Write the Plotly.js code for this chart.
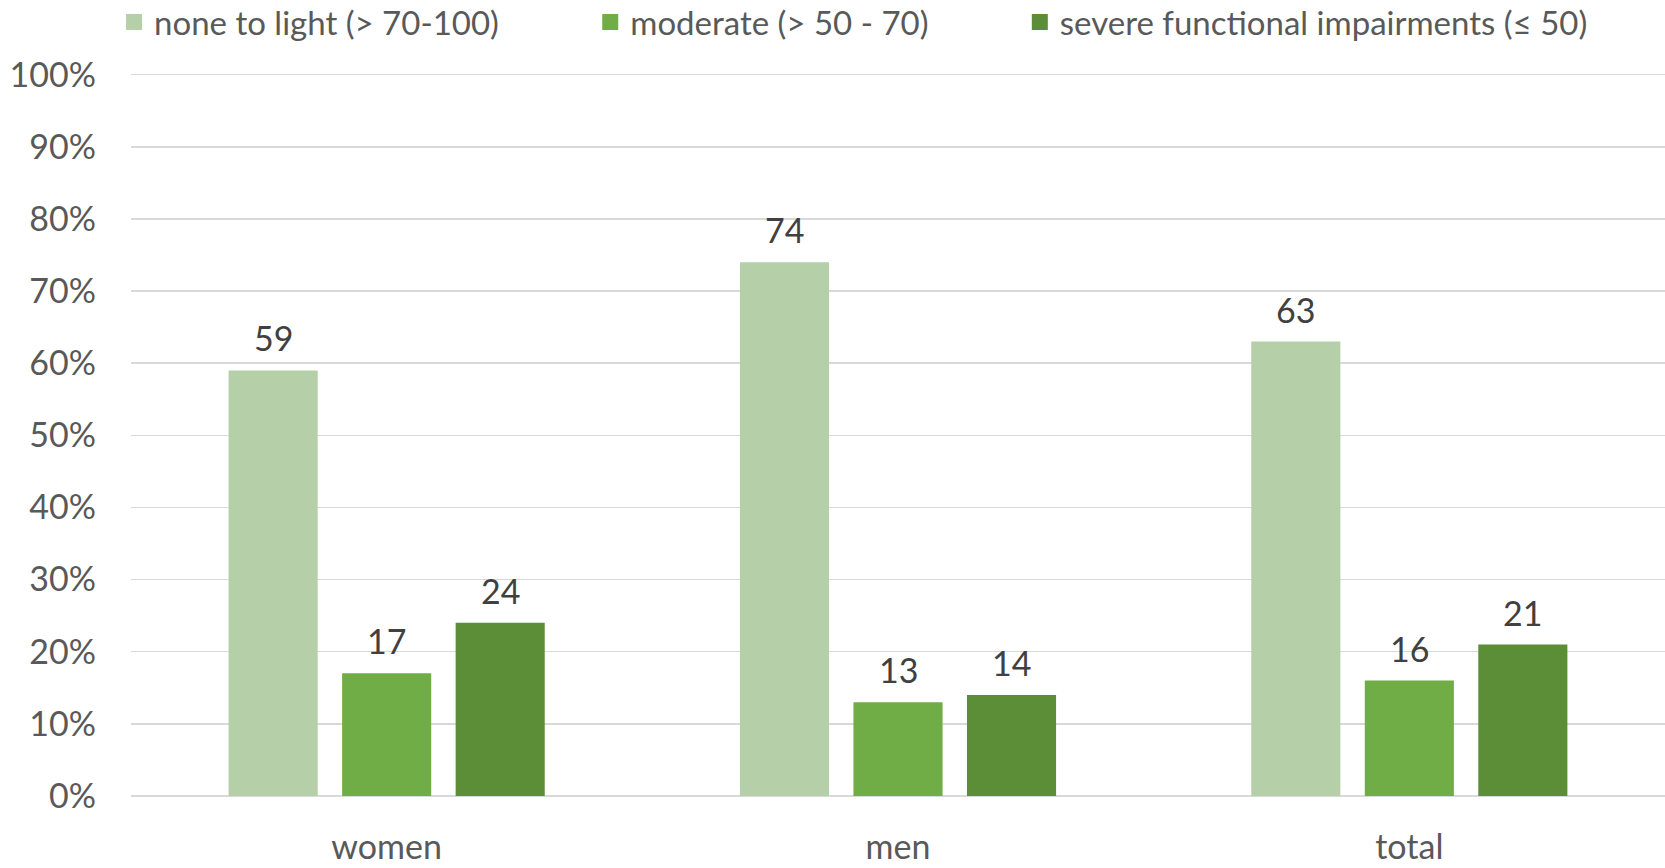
<!DOCTYPE html>
<html>
<head>
<meta charset="utf-8">
<script src="https://cdn.plot.ly/plotly-3.0.1.min.js"></script>
<style>
html,body{margin:0;padding:0;background:#fff;}
#chart{width:1665px;height:868px;}
</style>
</head>
<body>
<div id="chart"></div>
<script>
// ---- data ----
const categories = ["women", "men", "total"];
const seriesNames = ["none to light (> 70-100)", "moderate (> 50 - 70)", "severe functional impairments (≤ 50)"];
const noneToLight = [59, 74, 63];
const moderate = [17, 13, 16];
const severe = [24, 14, 21];
const yTickValues = [0, 10, 20, 30, 40, 50, 60, 70, 80, 90, 100];
const yTickLabels = ["0%", "10%", "20%", "30%", "40%", "50%", "60%", "70%", "80%", "90%", "100%"];

// ---- style ----
const colors = ["#B5CFA8", "#70AD47", "#5B8E37"];
const FONT = "Lato, 'Open Sans', sans-serif";
const FS = 34;
const W = 1665, H = 868;
const margin = {l: 131, r: 0, t: 70.7, b: 71.6, pad: 0};
const bargap = 0.334;
const legendX = [0.0685, 0.3545, 0.6125];

const allSeries = [noneToLight, moderate, severe];

const traces = [];
allSeries.forEach((vals, i) => {
  traces.push({
    type: "bar",
    name: seriesNames[i],
    x: categories,
    y: vals,
    marker: {color: colors[i], line: {width: 0}},
    showlegend: false,
    hoverinfo: "skip"
  });
});
// legend entries (square swatches)
allSeries.forEach((vals, i) => {
  traces.push({
    type: "scatter", mode: "markers",
    name: seriesNames[i],
    x: [null], y: [null],
    marker: {symbol: "square", size: 16, color: colors[i]},
    legend: i === 0 ? "legend" : "legend" + (i + 1),
    hoverinfo: "skip"
  });
});

// data labels as annotations offset to each bar of the group
const plotW = W - margin.l - margin.r;
const slot = plotW / categories.length * (1 - bargap) / allSeries.length;
const annotations = [];
allSeries.forEach((vals, i) => {
  vals.forEach((v, j) => {
    annotations.push({
      x: categories[j], y: v, xref: "x", yref: "y",
      xshift: (i - 1) * slot, yshift: 10,
      yanchor: "bottom", xanchor: "center",
      text: String(v), showarrow: false,
      font: {family: FONT, size: FS, color: "#404040"}
    });
  });
});

function legendCfg(x) {
  return {
    orientation: "h", xref: "container", yref: "container",
    x: x, xanchor: "left", y: 1 - 22 / H, yanchor: "middle",
    font: {family: FONT, size: 33, color: "#595959"},
    bgcolor: "rgba(0,0,0,0)", borderwidth: 0, itemclick: false, itemdoubleclick: false
  };
}

const layout = {
  width: W, height: H,
  margin: margin,
  paper_bgcolor: "#fff", plot_bgcolor: "#fff",
  font: {family: FONT, size: FS, color: "#595959"},
  barmode: "group",
  bargap: bargap,
  bargroupgap: 0.215,
  showlegend: true,
  legend: legendCfg(legendX[0]),
  legend2: legendCfg(legendX[1]),
  legend3: legendCfg(legendX[2]),
  xaxis: {
    type: "category",
    showgrid: false, zeroline: false, showline: false,
    ticks: "", ticklabelstandoff: 28,
    tickfont: {family: FONT, size: FS, color: "#595959"},
    fixedrange: true
  },
  yaxis: {
    range: [0, 100.5], tickmode: "array", tickvals: yTickValues, ticktext: yTickLabels,
    showgrid: true, gridcolor: "#D9D9D9", gridwidth: 1.5,
    zeroline: true, zerolinecolor: "#D9D9D9", zerolinewidth: 1.5,
    showline: false, ticks: "", ticklabelstandoff: 34,
    tickfont: {family: FONT, size: FS, color: "#595959"},
    fixedrange: true
  },
  annotations: annotations
};

Plotly.newPlot("chart", traces, layout, {staticPlot: true, displayModeBar: false});
</script>
</body>
</html>
